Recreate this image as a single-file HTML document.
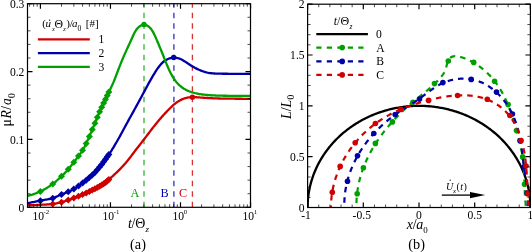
<!DOCTYPE html>
<html><head><meta charset="utf-8"><style>
html,body{margin:0;padding:0;background:#fff;}
body{width:532px;height:252px;overflow:hidden;font-family:"Liberation Serif", serif;}
svg{display:block;will-change:transform;}
</style></head><body>
<svg width="532" height="252" viewBox="0 0 532 252">
<rect width="532" height="252" fill="#fff"/>
<defs><clipPath id="cl"><rect x="27.5" y="3.7" width="223.0" height="203.60000000000002"/></clipPath><clipPath id="cr"><rect x="307.6" y="4.2" width="222.79999999999995" height="203.3"/></clipPath></defs>
<line x1="144.0" y1="207.3" x2="144.0" y2="3.7" stroke="#00a000" stroke-width="1.3" stroke-dasharray="5.6 4.9" opacity="0.8"/>
<line x1="173.9" y1="207.3" x2="173.9" y2="3.7" stroke="#0000a8" stroke-width="1.3" stroke-dasharray="5.6 4.9" opacity="0.8"/>
<line x1="192.4" y1="207.3" x2="192.4" y2="3.7" stroke="#d00000" stroke-width="1.3" stroke-dasharray="5.6 4.9" opacity="0.8"/>
<path d="M27.50 205.30 L28.50 205.27 L29.50 205.24 L30.50 205.21 L31.50 205.18 L32.50 205.14 L33.50 205.11 L34.50 205.07 L35.50 205.03 L36.50 204.98 L37.50 204.94 L38.50 204.89 L39.50 204.85 L40.50 204.80 L41.50 204.75 L42.50 204.70 L43.50 204.65 L44.50 204.59 L45.50 204.54 L46.50 204.48 L47.50 204.41 L48.50 204.34 L49.50 204.27 L50.50 204.18 L51.50 204.09 L52.50 203.98 L53.50 203.85 L54.50 203.71 L55.50 203.54 L56.50 203.35 L57.50 203.14 L58.50 202.92 L59.50 202.68 L60.50 202.44 L61.50 202.18 L62.50 201.91 L63.50 201.63 L64.50 201.33 L65.50 201.02 L66.50 200.69 L67.50 200.36 L68.50 200.02 L69.50 199.67 L70.50 199.31 L71.50 198.94 L72.50 198.56 L73.50 198.18 L74.50 197.79 L75.50 197.40 L76.50 197.00 L77.50 196.61 L78.50 196.20 L79.50 195.79 L80.50 195.38 L81.50 194.96 L82.50 194.54 L83.50 194.11 L84.50 193.67 L85.50 193.23 L86.50 192.79 L87.50 192.33 L88.50 191.87 L89.50 191.41 L90.50 190.93 L91.50 190.45 L92.50 189.96 L93.50 189.46 L94.50 188.96 L95.50 188.45 L96.50 187.94 L97.50 187.43 L98.50 186.91 L99.50 186.38 L100.50 185.83 L101.50 185.24 L102.50 184.60 L103.50 183.92 L104.50 183.18 L105.50 182.40 L106.50 181.57 L107.50 180.72 L108.50 179.85 L109.50 178.97 L110.50 178.09 L111.50 177.20 L112.50 176.30 L113.50 175.38 L114.50 174.46 L115.50 173.52 L116.50 172.56 L117.50 171.60 L118.50 170.61 L119.50 169.61 L120.50 168.59 L121.50 167.55 L122.50 166.49 L123.50 165.40 L124.50 164.28 L125.50 163.13 L126.50 161.96 L127.50 160.75 L128.50 159.52 L129.50 158.25 L130.50 156.95 L131.50 155.62 L132.50 154.29 L133.50 152.96 L134.50 151.63 L135.50 150.32 L136.50 149.03 L137.50 147.74 L138.50 146.45 L139.50 145.17 L140.50 143.89 L141.50 142.61 L142.50 141.32 L143.50 140.03 L144.50 138.72 L145.50 137.41 L146.50 136.10 L147.50 134.78 L148.50 133.46 L149.50 132.14 L150.50 130.82 L151.50 129.51 L152.50 128.21 L153.50 126.92 L154.50 125.67 L155.50 124.43 L156.50 123.21 L157.50 122.00 L158.50 120.80 L159.50 119.61 L160.50 118.43 L161.50 117.26 L162.50 116.12 L163.50 115.01 L164.50 113.93 L165.50 112.87 L166.50 111.83 L167.50 110.80 L168.50 109.79 L169.50 108.78 L170.50 107.79 L171.50 106.82 L172.50 105.88 L173.50 104.97 L174.50 104.10 L175.50 103.29 L176.50 102.54 L177.50 101.86 L178.50 101.22 L179.50 100.64 L180.50 100.10 L181.50 99.61 L182.50 99.16 L183.50 98.75 L184.50 98.39 L185.50 98.07 L186.50 97.80 L187.50 97.58 L188.50 97.41 L189.50 97.30 L190.50 97.21 L191.50 97.17 L192.50 97.14 L193.50 97.15 L194.50 97.18 L195.50 97.22 L196.50 97.27 L197.50 97.33 L198.50 97.40 L199.50 97.47 L200.50 97.54 L201.50 97.61 L202.50 97.68 L203.50 97.75 L204.50 97.81 L205.50 97.87 L206.50 97.93 L207.50 97.98 L208.50 98.04 L209.50 98.09 L210.50 98.14 L211.50 98.19 L212.50 98.24 L213.50 98.29 L214.50 98.33 L215.50 98.37 L216.50 98.41 L217.50 98.45 L218.50 98.48 L219.50 98.51 L220.50 98.54 L221.50 98.56 L222.50 98.58 L223.50 98.60 L224.50 98.61 L225.50 98.63 L226.50 98.64 L227.50 98.65 L228.50 98.66 L229.50 98.67 L230.50 98.68 L231.50 98.69 L232.50 98.70 L233.50 98.71 L234.50 98.72 L235.50 98.73 L236.50 98.74 L237.50 98.75 L238.50 98.75 L239.50 98.76 L240.50 98.77 L241.50 98.77 L242.50 98.78 L243.50 98.78 L244.50 98.79 L245.50 98.79 L246.50 98.79 L247.50 98.80 L248.50 98.80 L249.50 98.80 L250.50 98.80" fill="none" stroke="#d00000" stroke-width="2.3" clip-path="url(#cl)"/>
<path d="M52.74 200.45 L56.24 203.95 L52.74 207.45 L49.24 203.95Z" fill="#d00000"/>
<path d="M61.49 198.68 L64.99 202.18 L61.49 205.68 L57.99 202.18Z" fill="#d00000"/>
<path d="M68.28 196.59 L71.78 200.09 L68.28 203.59 L64.78 200.09Z" fill="#d00000"/>
<path d="M73.82 194.55 L77.32 198.05 L73.82 201.55 L70.32 198.05Z" fill="#d00000"/>
<path d="M78.51 192.70 L82.01 196.20 L78.51 199.70 L75.01 196.20Z" fill="#d00000"/>
<path d="M82.57 191.01 L86.07 194.51 L82.57 198.01 L79.07 194.51Z" fill="#d00000"/>
<path d="M86.16 189.44 L89.66 192.94 L86.16 196.44 L82.66 192.94Z" fill="#d00000"/>
<path d="M89.36 187.97 L92.86 191.47 L89.36 194.97 L85.86 191.47Z" fill="#d00000"/>
<path d="M92.26 186.57 L95.76 190.07 L92.26 193.57 L88.76 190.07Z" fill="#d00000"/>
<path d="M94.91 185.25 L98.41 188.75 L94.91 192.25 L91.41 188.75Z" fill="#d00000"/>
<path d="M97.34 184.01 L100.84 187.51 L97.34 191.01 L93.84 187.51Z" fill="#d00000"/>
<path d="M99.60 182.83 L103.10 186.33 L99.60 189.83 L96.10 186.33Z" fill="#d00000"/>
<path d="M101.70 181.61 L105.20 185.11 L101.70 188.61 L98.20 185.11Z" fill="#d00000"/>
<path d="M103.66 180.31 L107.16 183.81 L103.66 187.31 L100.16 183.81Z" fill="#d00000"/>
<path d="M105.51 178.89 L109.01 182.39 L105.51 185.89 L102.01 182.39Z" fill="#d00000"/>
<path d="M107.24 177.44 L110.74 180.94 L107.24 184.44 L103.74 180.94Z" fill="#d00000"/>
<path d="M108.89 176.01 L112.39 179.51 L108.89 183.01 L105.39 179.51Z" fill="#d00000"/>
<circle cx="192.4" cy="97.2" r="2.7" fill="#d00000"/>
<path d="M27.50 203.30 L28.50 203.09 L29.50 202.87 L30.50 202.66 L31.50 202.45 L32.50 202.24 L33.50 202.03 L34.50 201.82 L35.50 201.61 L36.50 201.41 L37.50 201.20 L38.50 201.00 L39.50 200.81 L40.50 200.61 L41.50 200.42 L42.50 200.24 L43.50 200.07 L44.50 199.90 L45.50 199.73 L46.50 199.56 L47.50 199.39 L48.50 199.20 L49.50 199.00 L50.50 198.78 L51.50 198.53 L52.50 198.25 L53.50 197.91 L54.50 197.53 L55.50 197.11 L56.50 196.65 L57.50 196.18 L58.50 195.72 L59.50 195.27 L60.50 194.84 L61.50 194.44 L62.50 194.06 L63.50 193.69 L64.50 193.31 L65.50 192.94 L66.50 192.54 L67.50 192.13 L68.50 191.70 L69.50 191.25 L70.50 190.77 L71.50 190.27 L72.50 189.76 L73.50 189.21 L74.50 188.64 L75.50 188.04 L76.50 187.41 L77.50 186.75 L78.50 186.06 L79.50 185.35 L80.50 184.63 L81.50 183.88 L82.50 183.13 L83.50 182.37 L84.50 181.59 L85.50 180.79 L86.50 179.98 L87.50 179.16 L88.50 178.32 L89.50 177.46 L90.50 176.59 L91.50 175.70 L92.50 174.78 L93.50 173.84 L94.50 172.85 L95.50 171.82 L96.50 170.74 L97.50 169.61 L98.50 168.42 L99.50 167.19 L100.50 165.93 L101.50 164.65 L102.50 163.35 L103.50 162.03 L104.50 160.68 L105.50 159.32 L106.50 157.92 L107.50 156.50 L108.50 155.05 L109.50 153.57 L110.50 152.06 L111.50 150.51 L112.50 148.92 L113.50 147.29 L114.50 145.64 L115.50 143.95 L116.50 142.24 L117.50 140.50 L118.50 138.74 L119.50 136.95 L120.50 135.13 L121.50 133.29 L122.50 131.43 L123.50 129.56 L124.50 127.70 L125.50 125.85 L126.50 124.01 L127.50 122.18 L128.50 120.36 L129.50 118.56 L130.50 116.76 L131.50 114.96 L132.50 113.16 L133.50 111.36 L134.50 109.55 L135.50 107.73 L136.50 105.90 L137.50 104.06 L138.50 102.22 L139.50 100.38 L140.50 98.53 L141.50 96.68 L142.50 94.82 L143.50 92.96 L144.50 91.10 L145.50 89.23 L146.50 87.36 L147.50 85.50 L148.50 83.66 L149.50 81.85 L150.50 80.07 L151.50 78.32 L152.50 76.61 L153.50 74.94 L154.50 73.31 L155.50 71.72 L156.50 70.19 L157.50 68.70 L158.50 67.28 L159.50 65.94 L160.50 64.71 L161.50 63.61 L162.50 62.63 L163.50 61.76 L164.50 60.99 L165.50 60.30 L166.50 59.71 L167.50 59.20 L168.50 58.76 L169.50 58.39 L170.50 58.07 L171.50 57.82 L172.50 57.65 L173.50 57.56 L174.50 57.56 L175.50 57.64 L176.50 57.79 L177.50 58.00 L178.50 58.27 L179.50 58.62 L180.50 59.03 L181.50 59.52 L182.50 60.07 L183.50 60.65 L184.50 61.26 L185.50 61.90 L186.50 62.56 L187.50 63.22 L188.50 63.90 L189.50 64.56 L190.50 65.21 L191.50 65.84 L192.50 66.44 L193.50 67.02 L194.50 67.58 L195.50 68.11 L196.50 68.62 L197.50 69.11 L198.50 69.57 L199.50 70.01 L200.50 70.43 L201.50 70.81 L202.50 71.18 L203.50 71.52 L204.50 71.84 L205.50 72.14 L206.50 72.41 L207.50 72.64 L208.50 72.84 L209.50 73.01 L210.50 73.14 L211.50 73.24 L212.50 73.33 L213.50 73.41 L214.50 73.48 L215.50 73.54 L216.50 73.59 L217.50 73.63 L218.50 73.66 L219.50 73.68 L220.50 73.70 L221.50 73.72 L222.50 73.73 L223.50 73.74 L224.50 73.75 L225.50 73.76 L226.50 73.77 L227.50 73.77 L228.50 73.78 L229.50 73.78 L230.50 73.79 L231.50 73.79 L232.50 73.80 L233.50 73.80 L234.50 73.80 L235.50 73.80 L236.50 73.80 L237.50 73.80 L238.50 73.80 L239.50 73.80 L240.50 73.80 L241.50 73.80 L242.50 73.80 L243.50 73.80 L244.50 73.80 L245.50 73.80 L246.50 73.80 L247.50 73.80 L248.50 73.80 L249.50 73.80 L250.50 73.80" fill="none" stroke="#0000a8" stroke-width="2.3" clip-path="url(#cl)"/>
<path d="M40.40 197.13 L43.90 200.63 L40.40 204.13 L36.90 200.63Z" fill="#0000a8"/>
<path d="M52.74 194.67 L56.24 198.17 L52.74 201.67 L49.24 198.17Z" fill="#0000a8"/>
<path d="M61.49 190.95 L64.99 194.45 L61.49 197.95 L57.99 194.45Z" fill="#0000a8"/>
<path d="M68.28 188.30 L71.78 191.80 L68.28 195.30 L64.78 191.80Z" fill="#0000a8"/>
<path d="M73.82 185.53 L77.32 189.03 L73.82 192.53 L70.32 189.03Z" fill="#0000a8"/>
<path d="M78.51 182.56 L82.01 186.06 L78.51 189.56 L75.01 186.06Z" fill="#0000a8"/>
<path d="M82.57 179.57 L86.07 183.07 L82.57 186.57 L79.07 183.07Z" fill="#0000a8"/>
<path d="M86.16 176.76 L89.66 180.26 L86.16 183.76 L82.66 180.26Z" fill="#0000a8"/>
<path d="M89.36 174.08 L92.86 177.58 L89.36 181.08 L85.86 177.58Z" fill="#0000a8"/>
<path d="M92.26 171.50 L95.76 175.00 L92.26 178.50 L88.76 175.00Z" fill="#0000a8"/>
<path d="M94.91 168.94 L98.41 172.44 L94.91 175.94 L91.41 172.44Z" fill="#0000a8"/>
<path d="M97.34 166.29 L100.84 169.79 L97.34 173.29 L93.84 169.79Z" fill="#0000a8"/>
<path d="M99.60 163.57 L103.10 167.07 L99.60 170.57 L96.10 167.07Z" fill="#0000a8"/>
<path d="M101.70 160.90 L105.20 164.40 L101.70 167.90 L98.20 164.40Z" fill="#0000a8"/>
<path d="M103.66 158.31 L107.16 161.81 L103.66 165.31 L100.16 161.81Z" fill="#0000a8"/>
<path d="M105.51 155.81 L109.01 159.31 L105.51 162.81 L102.01 159.31Z" fill="#0000a8"/>
<path d="M107.24 153.37 L110.74 156.87 L107.24 160.37 L103.74 156.87Z" fill="#0000a8"/>
<path d="M108.89 150.98 L112.39 154.48 L108.89 157.98 L105.39 154.48Z" fill="#0000a8"/>
<circle cx="173.7" cy="57.4" r="2.7" fill="#0000a8"/>
<path d="M27.50 195.96 L28.50 195.72 L29.50 195.46 L30.50 195.18 L31.50 194.88 L32.50 194.56 L33.50 194.21 L34.50 193.85 L35.50 193.47 L36.50 193.08 L37.50 192.68 L38.50 192.25 L39.50 191.82 L40.50 191.37 L41.50 190.89 L42.50 190.40 L43.50 189.88 L44.50 189.33 L45.50 188.76 L46.50 188.16 L47.50 187.54 L48.50 186.90 L49.50 186.23 L50.50 185.55 L51.50 184.85 L52.50 184.12 L53.50 183.37 L54.50 182.58 L55.50 181.75 L56.50 180.90 L57.50 180.01 L58.50 179.11 L59.50 178.18 L60.50 177.24 L61.50 176.28 L62.50 175.32 L63.50 174.33 L64.50 173.32 L65.50 172.29 L66.50 171.22 L67.50 170.12 L68.50 168.98 L69.50 167.80 L70.50 166.58 L71.50 165.32 L72.50 164.04 L73.50 162.74 L74.50 161.42 L75.50 160.09 L76.50 158.75 L77.50 157.41 L78.50 156.07 L79.50 154.74 L80.50 153.37 L81.50 151.94 L82.50 150.39 L83.50 148.71 L84.50 146.88 L85.50 144.92 L86.50 142.83 L87.50 140.65 L88.50 138.39 L89.50 136.09 L90.50 133.75 L91.50 131.40 L92.50 129.03 L93.50 126.63 L94.50 124.20 L95.50 121.74 L96.50 119.27 L97.50 116.81 L98.50 114.41 L99.50 112.07 L100.50 109.82 L101.50 107.64 L102.50 105.51 L103.50 103.42 L104.50 101.34 L105.50 99.25 L106.50 97.15 L107.50 95.04 L108.50 92.93 L109.50 90.83 L110.50 88.73 L111.50 86.61 L112.50 84.43 L113.50 82.15 L114.50 79.72 L115.50 77.17 L116.50 74.53 L117.50 71.86 L118.50 69.22 L119.50 66.63 L120.50 64.12 L121.50 61.67 L122.50 59.27 L123.50 56.92 L124.50 54.61 L125.50 52.36 L126.50 50.15 L127.50 47.97 L128.50 45.80 L129.50 43.63 L130.50 41.42 L131.50 39.18 L132.50 36.94 L133.50 34.77 L134.50 32.77 L135.50 31.02 L136.50 29.53 L137.50 28.29 L138.50 27.28 L139.50 26.47 L140.50 25.83 L141.50 25.35 L142.50 25.02 L143.50 24.84 L144.50 24.84 L145.50 25.02 L146.50 25.35 L147.50 25.84 L148.50 26.49 L149.50 27.32 L150.50 28.36 L151.50 29.62 L152.50 31.13 L153.50 32.89 L154.50 34.89 L155.50 37.07 L156.50 39.37 L157.50 41.72 L158.50 44.07 L159.50 46.44 L160.50 48.83 L161.50 51.27 L162.50 53.75 L163.50 56.26 L164.50 58.80 L165.50 61.33 L166.50 63.83 L167.50 66.25 L168.50 68.57 L169.50 70.75 L170.50 72.79 L171.50 74.68 L172.50 76.43 L173.50 78.04 L174.50 79.53 L175.50 80.90 L176.50 82.15 L177.50 83.31 L178.50 84.36 L179.50 85.32 L180.50 86.20 L181.50 87.00 L182.50 87.74 L183.50 88.42 L184.50 89.04 L185.50 89.60 L186.50 90.12 L187.50 90.59 L188.50 91.02 L189.50 91.42 L190.50 91.79 L191.50 92.13 L192.50 92.44 L193.50 92.73 L194.50 93.00 L195.50 93.25 L196.50 93.48 L197.50 93.69 L198.50 93.88 L199.50 94.06 L200.50 94.22 L201.50 94.37 L202.50 94.50 L203.50 94.62 L204.50 94.73 L205.50 94.84 L206.50 94.93 L207.50 95.02 L208.50 95.10 L209.50 95.18 L210.50 95.25 L211.50 95.32 L212.50 95.38 L213.50 95.43 L214.50 95.47 L215.50 95.51 L216.50 95.54 L217.50 95.58 L218.50 95.61 L219.50 95.63 L220.50 95.66 L221.50 95.68 L222.50 95.71 L223.50 95.73 L224.50 95.75 L225.50 95.76 L226.50 95.77 L227.50 95.78 L228.50 95.79 L229.50 95.80 L230.50 95.80 L231.50 95.80 L232.50 95.80 L233.50 95.80 L234.50 95.80 L235.50 95.80 L236.50 95.80 L237.50 95.80 L238.50 95.80 L239.50 95.80 L240.50 95.80 L241.50 95.80 L242.50 95.80 L243.50 95.80 L244.50 95.80 L245.50 95.80 L246.50 95.80 L247.50 95.80 L248.50 95.80 L249.50 95.80 L250.50 95.80" fill="none" stroke="#00a000" stroke-width="2.3" clip-path="url(#cl)"/>
<path d="M40.40 187.91 L43.90 191.41 L40.40 194.91 L36.90 191.41Z" fill="#00a000"/>
<path d="M52.74 180.45 L56.24 183.95 L52.74 187.45 L49.24 183.95Z" fill="#00a000"/>
<path d="M61.49 172.80 L64.99 176.30 L61.49 179.80 L57.99 176.30Z" fill="#00a000"/>
<path d="M68.28 165.74 L71.78 169.24 L68.28 172.74 L64.78 169.24Z" fill="#00a000"/>
<path d="M73.82 158.81 L77.32 162.31 L73.82 165.81 L70.32 162.31Z" fill="#00a000"/>
<path d="M78.51 152.56 L82.01 156.06 L78.51 159.56 L75.01 156.06Z" fill="#00a000"/>
<path d="M82.57 146.77 L86.07 150.27 L82.57 153.77 L79.07 150.27Z" fill="#00a000"/>
<path d="M86.16 140.06 L89.66 143.56 L86.16 147.06 L82.66 143.56Z" fill="#00a000"/>
<path d="M89.36 132.91 L92.86 136.41 L89.36 139.91 L85.86 136.41Z" fill="#00a000"/>
<path d="M92.26 126.09 L95.76 129.59 L92.26 133.09 L88.76 129.59Z" fill="#00a000"/>
<path d="M94.91 119.69 L98.41 123.19 L94.91 126.69 L91.41 123.19Z" fill="#00a000"/>
<path d="M97.34 113.69 L100.84 117.19 L97.34 120.69 L93.84 117.19Z" fill="#00a000"/>
<path d="M99.60 108.35 L103.10 111.85 L99.60 115.35 L96.10 111.85Z" fill="#00a000"/>
<path d="M101.70 103.71 L105.20 107.21 L101.70 110.71 L98.20 107.21Z" fill="#00a000"/>
<path d="M103.66 99.59 L107.16 103.09 L103.66 106.59 L100.16 103.09Z" fill="#00a000"/>
<path d="M105.51 95.74 L109.01 99.24 L105.51 102.74 L102.01 99.24Z" fill="#00a000"/>
<path d="M107.24 92.08 L110.74 95.58 L107.24 99.08 L103.74 95.58Z" fill="#00a000"/>
<path d="M108.89 88.61 L112.39 92.11 L108.89 95.61 L105.39 92.11Z" fill="#00a000"/>
<circle cx="144" cy="24.5" r="2.7" fill="#00a000"/>
<rect x="27.5" y="3.7" width="223.0" height="203.60000000000002" fill="none" stroke="#000" stroke-width="1.2"/>
<path d="M40.40 207.3 v-5.0 M40.40 3.7 v5.0 M110.45 207.3 v-5.0 M110.45 3.7 v5.0 M180.50 207.3 v-5.0 M180.50 3.7 v5.0 M250.55 207.3 v-5.0 M250.55 3.7 v5.0 M27.5 207.30 h5.0 M250.5 207.30 h-5.0 M27.5 139.43 h5.0 M250.5 139.43 h-5.0 M27.5 71.56 h5.0 M250.5 71.56 h-5.0 M27.5 3.69 h5.0 M250.5 3.69 h-5.0" stroke="#000" stroke-width="1.2" fill="none"/>
<path d="M29.55 207.3 v-3.0 M29.55 3.7 v3.0 M33.61 207.3 v-3.0 M33.61 3.7 v3.0 M37.19 207.3 v-3.0 M37.19 3.7 v3.0 M61.49 207.3 v-3.0 M61.49 3.7 v3.0 M73.82 207.3 v-3.0 M73.82 3.7 v3.0 M82.57 207.3 v-3.0 M82.57 3.7 v3.0 M89.36 207.3 v-3.0 M89.36 3.7 v3.0 M94.91 207.3 v-3.0 M94.91 3.7 v3.0 M99.60 207.3 v-3.0 M99.60 3.7 v3.0 M103.66 207.3 v-3.0 M103.66 3.7 v3.0 M107.24 207.3 v-3.0 M107.24 3.7 v3.0 M131.54 207.3 v-3.0 M131.54 3.7 v3.0 M143.87 207.3 v-3.0 M143.87 3.7 v3.0 M152.62 207.3 v-3.0 M152.62 3.7 v3.0 M159.41 207.3 v-3.0 M159.41 3.7 v3.0 M164.96 207.3 v-3.0 M164.96 3.7 v3.0 M169.65 207.3 v-3.0 M169.65 3.7 v3.0 M173.71 207.3 v-3.0 M173.71 3.7 v3.0 M177.29 207.3 v-3.0 M177.29 3.7 v3.0 M201.59 207.3 v-3.0 M201.59 3.7 v3.0 M213.92 207.3 v-3.0 M213.92 3.7 v3.0 M222.67 207.3 v-3.0 M222.67 3.7 v3.0 M229.46 207.3 v-3.0 M229.46 3.7 v3.0 M235.01 207.3 v-3.0 M235.01 3.7 v3.0 M239.70 207.3 v-3.0 M239.70 3.7 v3.0 M243.76 207.3 v-3.0 M243.76 3.7 v3.0 M247.34 207.3 v-3.0 M247.34 3.7 v3.0 M27.5 193.73 h3.0 M250.5 193.73 h-3.0 M27.5 180.15 h3.0 M250.5 180.15 h-3.0 M27.5 166.58 h3.0 M250.5 166.58 h-3.0 M27.5 153.00 h3.0 M250.5 153.00 h-3.0 M27.5 125.86 h3.0 M250.5 125.86 h-3.0 M27.5 112.28 h3.0 M250.5 112.28 h-3.0 M27.5 98.71 h3.0 M250.5 98.71 h-3.0 M27.5 85.13 h3.0 M250.5 85.13 h-3.0 M27.5 57.99 h3.0 M250.5 57.99 h-3.0 M27.5 44.41 h3.0 M250.5 44.41 h-3.0 M27.5 30.84 h3.0 M250.5 30.84 h-3.0 M27.5 17.26 h3.0 M250.5 17.26 h-3.0" stroke="#000" stroke-width="0.7" fill="none"/>
<path d="M307.60 207.50 L307.61 206.43 L307.62 205.36 L307.66 204.30 L307.70 203.23 L307.75 202.16 L307.82 201.10 L307.90 200.03 L307.99 198.97 L308.10 197.90 L308.21 196.84 L308.34 195.78 L308.48 194.72 L308.64 193.66 L308.80 192.60 L308.98 191.55 L309.17 190.49 L309.37 189.44 L309.59 188.39 L309.81 187.34 L310.05 186.30 L310.30 185.25 L310.56 184.21 L310.84 183.17 L311.12 182.14 L311.42 181.11 L311.73 180.08 L312.05 179.05 L312.39 178.02 L312.73 177.00 L313.09 175.99 L313.46 174.97 L313.84 173.96 L314.23 172.96 L314.63 171.95 L315.05 170.96 L315.47 169.96 L315.91 168.97 L316.36 167.98 L316.82 167.00 L317.29 166.03 L317.78 165.05 L318.27 164.08 L318.78 163.12 L319.29 162.16 L319.82 161.21 L320.36 160.26 L320.91 159.32 L321.47 158.38 L322.04 157.45 L322.62 156.52 L323.21 155.60 L323.82 154.68 L324.43 153.77 L325.05 152.87 L325.69 151.97 L326.33 151.08 L326.99 150.20 L327.65 149.32 L328.33 148.44 L329.01 147.58 L329.71 146.72 L330.41 145.87 L331.13 145.02 L331.85 144.18 L332.59 143.35 L333.33 142.52 L334.08 141.71 L334.84 140.90 L335.62 140.09 L336.40 139.30 L337.19 138.51 L337.99 137.73 L338.79 136.96 L339.61 136.19 L340.44 135.43 L341.27 134.68 L342.11 133.94 L342.96 133.21 L343.82 132.49 L344.69 131.77 L345.57 131.06 L346.45 130.36 L347.34 129.67 L348.24 128.99 L349.15 128.31 L350.07 127.65 L350.99 126.99 L351.92 126.34 L352.86 125.71 L353.81 125.08 L354.76 124.46 L355.72 123.84 L356.68 123.24 L357.66 122.65 L358.64 122.07 L359.63 121.49 L360.62 120.93 L361.62 120.37 L362.63 119.83 L363.64 119.29 L364.66 118.77 L365.68 118.25 L366.71 117.74 L367.75 117.25 L368.79 116.76 L369.84 116.28 L370.89 115.82 L371.95 115.36 L373.01 114.92 L374.08 114.48 L375.16 114.05 L376.23 113.64 L377.32 113.23 L378.40 112.84 L379.50 112.46 L380.59 112.08 L381.69 111.72 L382.80 111.37 L383.91 111.03 L385.02 110.69 L386.14 110.37 L387.26 110.06 L388.38 109.76 L389.51 109.48 L390.64 109.20 L391.77 108.93 L392.91 108.68 L394.05 108.43 L395.19 108.20 L396.34 107.98 L397.48 107.76 L398.63 107.56 L399.78 107.37 L400.94 107.20 L402.09 107.03 L403.25 106.87 L404.41 106.73 L405.57 106.59 L406.73 106.47 L407.90 106.36 L409.06 106.26 L410.23 106.17 L411.40 106.09 L412.57 106.02 L413.73 105.96 L414.90 105.92 L416.07 105.89 L417.24 105.86 L418.41 105.85 L419.59 105.85 L420.76 105.86 L421.93 105.89 L423.10 105.92 L424.27 105.96 L425.43 106.02 L426.60 106.09 L427.77 106.17 L428.94 106.26 L430.10 106.36 L431.27 106.47 L432.43 106.59 L433.59 106.73 L434.75 106.87 L435.91 107.03 L437.06 107.20 L438.22 107.37 L439.37 107.56 L440.52 107.76 L441.66 107.98 L442.81 108.20 L443.95 108.43 L445.09 108.68 L446.23 108.93 L447.36 109.20 L448.49 109.48 L449.62 109.76 L450.74 110.06 L451.86 110.37 L452.98 110.69 L454.09 111.03 L455.20 111.37 L456.31 111.72 L457.41 112.08 L458.50 112.46 L459.60 112.84 L460.68 113.23 L461.77 113.64 L462.84 114.05 L463.92 114.48 L464.99 114.92 L466.05 115.36 L467.11 115.82 L468.16 116.28 L469.21 116.76 L470.25 117.25 L471.29 117.74 L472.32 118.25 L473.34 118.77 L474.36 119.29 L475.37 119.83 L476.38 120.37 L477.38 120.93 L478.37 121.49 L479.36 122.07 L480.34 122.65 L481.32 123.24 L482.28 123.84 L483.24 124.46 L484.19 125.08 L485.14 125.71 L486.08 126.34 L487.01 126.99 L487.93 127.65 L488.85 128.31 L489.76 128.99 L490.66 129.67 L491.55 130.36 L492.43 131.06 L493.31 131.77 L494.18 132.49 L495.04 133.21 L495.89 133.94 L496.73 134.68 L497.56 135.43 L498.39 136.19 L499.21 136.96 L500.01 137.73 L500.81 138.51 L501.60 139.30 L502.38 140.09 L503.16 140.90 L503.92 141.71 L504.67 142.52 L505.41 143.35 L506.15 144.18 L506.87 145.02 L507.59 145.87 L508.29 146.72 L508.99 147.58 L509.67 148.44 L510.35 149.32 L511.01 150.20 L511.67 151.08 L512.31 151.97 L512.95 152.87 L513.57 153.77 L514.18 154.68 L514.79 155.60 L515.38 156.52 L515.96 157.45 L516.53 158.38 L517.09 159.32 L517.64 160.26 L518.18 161.21 L518.71 162.16 L519.22 163.12 L519.73 164.08 L520.22 165.05 L520.71 166.03 L521.18 167.00 L521.64 167.98 L522.09 168.97 L522.53 169.96 L522.95 170.96 L523.37 171.95 L523.77 172.96 L524.16 173.96 L524.54 174.97 L524.91 175.99 L525.27 177.00 L525.61 178.02 L525.95 179.05 L526.27 180.08 L526.58 181.11 L526.88 182.14 L527.16 183.17 L527.44 184.21 L527.70 185.25 L527.95 186.30 L528.19 187.34 L528.41 188.39 L528.63 189.44 L528.83 190.49 L529.02 191.55 L529.20 192.60 L529.36 193.66 L529.52 194.72 L529.66 195.78 L529.79 196.84 L529.90 197.90 L530.01 198.97 L530.10 200.03 L530.18 201.10 L530.25 202.16 L530.30 203.23 L530.34 204.30 L530.38 205.36 L530.39 206.43 L530.40 207.50" fill="none" stroke="#000" stroke-width="2.3" clip-path="url(#cr)"/>
<path d="M356.45 207.65 L356.44 207.01 L356.43 206.37 L356.43 205.73 L356.43 205.09 L356.43 204.45 L356.44 203.82 L356.45 203.19 L356.47 202.55 L356.49 201.92 L356.51 201.29 L356.53 200.66 L356.57 200.03 L356.60 199.40 L356.64 198.77 L356.68 198.15 L356.73 197.52 L356.77 196.90 L356.83 196.28 L356.88 195.65 L356.94 195.03 L357.01 194.41 L357.08 193.79 L357.15 193.18 L357.22 192.56 L357.30 191.94 L357.38 191.33 L357.47 190.72 L357.56 190.10 L357.65 189.49 L357.75 188.88 L357.85 188.27 L357.95 187.66 L358.06 187.06 L358.17 186.45 L358.28 185.85 L358.40 185.24 L358.52 184.64 L358.64 184.04 L358.77 183.44 L358.90 182.84 L359.03 182.24 L359.17 181.64 L359.31 181.05 L359.46 180.45 L359.60 179.86 L359.75 179.26 L359.91 178.67 L360.07 178.08 L360.23 177.49 L360.39 176.90 L360.56 176.32 L360.73 175.73 L360.90 175.14 L361.08 174.56 L361.25 173.98 L361.44 173.40 L361.62 172.81 L361.81 172.24 L362.00 171.66 L362.20 171.08 L362.40 170.50 L362.60 169.93 L362.80 169.35 L363.01 168.78 L363.22 168.21 L363.43 167.64 L363.65 167.07 L363.86 166.50 L364.09 165.94 L364.31 165.37 L364.54 164.80 L364.77 164.24 L365.00 163.68 L365.24 163.12 L365.48 162.56 L365.72 162.00 L365.96 161.44 L366.21 160.88 L366.46 160.33 L366.71 159.78 L366.97 159.22 L367.23 158.67 L367.49 158.12 L367.75 157.57 L368.02 157.02 L368.29 156.47 L368.56 155.93 L368.83 155.38 L369.11 154.84 L369.39 154.30 L369.67 153.76 L369.96 153.22 L370.24 152.68 L370.53 152.14 L370.82 151.60 L371.12 151.07 L371.42 150.54 L371.72 150.00 L372.02 149.47 L372.32 148.94 L372.63 148.41 L372.94 147.88 L373.25 147.36 L373.57 146.83 L373.88 146.31 L374.20 145.79 L374.52 145.26 L374.85 144.74 L375.17 144.22 L375.50 143.71 L375.83 143.19 L376.16 142.67 L376.50 142.16 L376.84 141.65 L377.17 141.13 L377.52 140.62 L377.86 140.11 L378.21 139.61 L378.55 139.10 L378.90 138.59 L379.26 138.09 L379.61 137.59 L379.97 137.09 L380.33 136.59 L380.69 136.09 L381.05 135.59 L381.41 135.09 L381.78 134.60 L382.15 134.10 L382.52 133.61 L382.89 133.12 L383.27 132.63 L383.64 132.14 L384.02 131.65 L384.40 131.16 L384.79 130.68 L385.17 130.20 L385.56 129.71 L385.94 129.23 L386.33 128.75 L386.73 128.27 L387.12 127.80 L387.51 127.32 L387.91 126.85 L388.31 126.37 L388.71 125.90 L389.11 125.43 L389.52 124.96 L389.92 124.49 L390.33 124.03 L390.74 123.56 L391.15 123.10 L391.56 122.63 L391.97 122.17 L392.39 121.71 L392.81 121.25 L393.22 120.79 L393.64 120.34 L394.07 119.88 L394.49 119.43 L394.91 118.98 L395.34 118.53 L395.77 118.08 L396.20 117.63 L396.63 117.18 L397.06 116.74 L397.49 116.29 L397.93 115.85 L398.36 115.41 L398.80 114.97 L399.24 114.53 L399.68 114.09 L400.12 113.66 L400.56 113.22 L401.01 112.79 L401.45 112.36 L401.90 111.93 L402.34 111.50 L402.79 111.07 L403.24 110.65 L403.70 110.22 L404.15 109.80 L404.60 109.38 L405.06 108.96 L405.51 108.54 L405.97 108.12 L406.43 107.70 L406.89 107.29 L407.35 106.87 L407.81 106.46 L408.27 106.05 L408.73 105.64 L409.20 105.23 L409.66 104.83 L410.13 104.42 L410.60 104.02 L411.07 103.62 L411.54 103.21 L412.01 102.82 L412.48 102.42 L412.95 102.02 L413.42 101.63 L413.90 101.23 L414.37 100.84 L414.85 100.45 L415.32 100.06 L415.80 99.67 L416.27 99.28 L416.75 98.89 L417.23 98.50 L417.71 98.12 L418.18 97.73 L418.66 97.35 L419.14 96.96 L419.62 96.58 L420.10 96.19 L420.57 95.81 L421.05 95.43 L421.53 95.04 L422.00 94.66 L422.48 94.27 L422.96 93.89 L423.43 93.50 L423.91 93.12 L424.38 92.73 L424.85 92.34 L425.33 91.96 L425.80 91.57 L426.27 91.18 L426.74 90.79 L427.20 90.40 L427.67 90.01 L428.14 89.61 L428.60 89.22 L429.06 88.82 L429.52 88.42 L429.98 88.02 L430.44 87.62 L430.90 87.22 L431.35 86.81 L431.81 86.41 L432.26 86.00 L432.71 85.59 L433.15 85.17 L433.60 84.76 L434.04 84.34 L434.48 83.92 L434.92 83.50 L435.35 83.07 L435.79 82.65 L436.22 82.21 L436.65 81.78 L437.07 81.34 L437.49 80.90 L437.91 80.46 L438.33 80.02 L438.74 79.57 L439.16 79.11 L439.56 78.66 L439.97 78.20 L440.37 77.73 L440.77 77.27 L441.16 76.79 L441.54 76.32 L441.92 75.83 L442.29 75.34 L442.65 74.84 L443.00 74.34 L443.34 73.83 L443.67 73.30 L443.99 72.77 L444.29 72.23 L444.58 71.68 L444.85 71.12 L445.10 70.54 L445.33 69.95 L445.55 69.36 L445.75 68.75 L445.94 68.13 L446.12 67.51 L446.30 66.88 L446.46 66.25 L446.63 65.62 L446.79 64.99 L446.96 64.37 L447.14 63.75 L447.32 63.14 L447.52 62.54 L447.73 61.95 L447.96 61.38 L448.21 60.82 L448.48 60.28 L448.77 59.76 L449.09 59.27 L449.43 58.80 L449.80 58.37 L450.19 57.97 L450.60 57.60 L451.05 57.28 L451.51 57.00 L452.00 56.76 L452.52 56.57 L453.05 56.42 L453.61 56.31 L454.18 56.24 L454.77 56.20 L455.36 56.19 L455.97 56.21 L456.59 56.26 L457.21 56.33 L457.84 56.42 L458.47 56.53 L459.10 56.66 L459.72 56.81 L460.34 56.96 L460.96 57.13 L461.56 57.30 L462.16 57.49 L462.76 57.68 L463.35 57.88 L463.93 58.09 L464.51 58.30 L465.09 58.53 L465.66 58.76 L466.23 58.99 L466.80 59.23 L467.36 59.48 L467.93 59.73 L468.49 59.99 L469.04 60.25 L469.60 60.52 L470.15 60.79 L470.70 61.07 L471.25 61.35 L471.79 61.64 L472.34 61.94 L472.88 62.24 L473.41 62.54 L473.95 62.85 L474.48 63.17 L475.01 63.49 L475.53 63.81 L476.06 64.14 L476.57 64.48 L477.09 64.82 L477.61 65.16 L478.12 65.51 L478.62 65.87 L479.13 66.22 L479.63 66.59 L480.13 66.95 L480.63 67.32 L481.12 67.70 L481.61 68.08 L482.09 68.46 L482.58 68.85 L483.05 69.24 L483.53 69.64 L484.00 70.04 L484.47 70.44 L484.94 70.85 L485.40 71.26 L485.86 71.68 L486.32 72.10 L486.77 72.52 L487.22 72.95 L487.66 73.38 L488.10 73.81 L488.54 74.25 L488.98 74.69 L489.41 75.13 L489.83 75.58 L490.26 76.03 L490.68 76.49 L491.09 76.94 L491.50 77.40 L491.91 77.87 L492.32 78.33 L492.72 78.80 L493.11 79.27 L493.51 79.75 L493.89 80.22 L494.28 80.70 L494.66 81.19 L495.04 81.67 L495.41 82.16 L495.78 82.65 L496.14 83.14 L496.50 83.64 L496.86 84.13 L497.21 84.63 L497.56 85.14 L497.90 85.64 L498.25 86.15 L498.58 86.66 L498.92 87.17 L499.25 87.68 L499.57 88.20 L499.90 88.72 L500.22 89.24 L500.53 89.76 L500.85 90.28 L501.16 90.81 L501.46 91.34 L501.77 91.87 L502.07 92.40 L502.36 92.94 L502.65 93.47 L502.94 94.01 L503.23 94.55 L503.52 95.09 L503.80 95.64 L504.07 96.18 L504.35 96.73 L504.62 97.28 L504.89 97.83 L505.16 98.38 L505.42 98.93 L505.68 99.49 L505.94 100.04 L506.19 100.60 L506.45 101.16 L506.70 101.72 L506.94 102.29 L507.19 102.85 L507.43 103.41 L507.67 103.98 L507.91 104.55 L508.14 105.12 L508.38 105.69 L508.61 106.26 L508.83 106.83 L509.06 107.41 L509.28 107.98 L509.51 108.56 L509.73 109.13 L509.94 109.71 L510.16 110.29 L510.37 110.87 L510.58 111.45 L510.79 112.03 L511.00 112.61 L511.21 113.20 L511.41 113.78 L511.61 114.37 L511.81 114.95 L512.01 115.54 L512.21 116.13 L512.41 116.71 L512.60 117.30 L512.79 117.89 L512.98 118.48 L513.17 119.07 L513.36 119.66 L513.55 120.25 L513.73 120.84 L513.92 121.43 L514.10 122.03 L514.28 122.62 L514.46 123.21 L514.64 123.80 L514.82 124.40 L515.00 124.99 L515.17 125.58 L515.35 126.18 L515.52 126.77 L515.70 127.37 L515.87 127.96 L516.04 128.55 L516.21 129.15 L516.38 129.74 L516.55 130.34 L516.72 130.93 L516.89 131.53 L517.06 132.12 L517.22 132.71 L517.39 133.31 L517.55 133.90 L517.72 134.49 L517.88 135.09 L518.04 135.68 L518.20 136.28 L518.36 136.87 L518.52 137.46 L518.68 138.06 L518.83 138.65 L518.99 139.25 L519.14 139.84 L519.29 140.43 L519.44 141.03 L519.59 141.62 L519.73 142.22 L519.88 142.81 L520.02 143.41 L520.16 144.01 L520.30 144.60 L520.44 145.20 L520.57 145.79 L520.71 146.39 L520.84 146.99 L520.97 147.59 L521.09 148.18 L521.22 148.78 L521.34 149.38 L521.46 149.98 L521.58 150.58 L521.69 151.18 L521.80 151.78 L521.91 152.38 L522.02 152.98 L522.12 153.58 L522.23 154.18 L522.32 154.79 L522.42 155.39 L522.51 155.99 L522.60 156.60 L522.69 157.20 L522.77 157.81 L522.85 158.42 L522.93 159.02 L523.01 159.63 L523.08 160.24 L523.15 160.85 L523.22 161.45 L523.28 162.06 L523.34 162.67 L523.40 163.28 L523.46 163.89 L523.51 164.51 L523.57 165.12 L523.62 165.73 L523.67 166.34 L523.71 166.95 L523.76 167.57 L523.80 168.18 L523.84 168.79 L523.88 169.41 L523.92 170.02 L523.96 170.64 L523.99 171.25 L524.02 171.87 L524.06 172.48 L524.09 173.10 L524.12 173.71 L524.15 174.33 L524.17 174.95 L524.20 175.56 L524.23 176.18 L524.25 176.80 L524.27 177.41 L524.30 178.03 L524.32 178.65 L524.34 179.26 L524.36 179.88 L524.39 180.50 L524.41 181.12 L524.43 181.73 L524.45 182.35 L524.47 182.97 L524.49 183.58 L524.51 184.20 L524.53 184.82 L524.55 185.44 L524.57 186.05 L524.59 186.67 L524.61 187.29 L524.64 187.90 L524.66 188.52 L524.68 189.14 L524.71 189.75 L524.73 190.37 L524.76 190.99 L524.78 191.60 L524.81 192.22 L524.84 192.83 L524.87 193.45 L524.90 194.06 L524.93 194.68 L524.96 195.29 L524.99 195.91 L525.03 196.52 L525.07 197.13 L525.11 197.75 L525.15 198.36 L525.19 198.97 L525.23 199.58 L525.28 200.20 L525.33 200.81 L525.38 201.42 L525.43 202.03 L525.48 202.64 L525.54 203.25 L525.60 203.86 L525.66 204.47 L525.72 205.07 L525.79 205.68 L525.85 206.29 L525.92 206.89 L526.00 207.50" fill="none" stroke="#00a000" stroke-width="2.2" stroke-dasharray="5.5 5" stroke-dashoffset="6.0" clip-path="url(#cr)"/>
<circle cx="357.2" cy="193.7" r="2.8" fill="#00a000"/>
<circle cx="363.4" cy="167.8" r="2.8" fill="#00a000"/>
<circle cx="375.4" cy="143.4" r="2.8" fill="#00a000"/>
<circle cx="392.4" cy="121.9" r="2.8" fill="#00a000"/>
<circle cx="412.9" cy="102.2" r="2.8" fill="#00a000"/>
<circle cx="434.5" cy="83.6" r="2.8" fill="#00a000"/>
<circle cx="448.3" cy="61.0" r="2.8" fill="#00a000"/>
<circle cx="473.7" cy="62.4" r="2.8" fill="#00a000"/>
<circle cx="494.6" cy="81.3" r="2.8" fill="#00a000"/>
<circle cx="508.1" cy="104.6" r="2.8" fill="#00a000"/>
<circle cx="516.5" cy="130.6" r="2.8" fill="#00a000"/>
<circle cx="522.7" cy="156.9" r="2.8" fill="#00a000"/>
<circle cx="524.5" cy="184.3" r="2.8" fill="#00a000"/>
<path d="M344.35 207.57 L344.34 206.97 L344.33 206.37 L344.32 205.78 L344.31 205.18 L344.31 204.59 L344.31 203.99 L344.32 203.40 L344.33 202.81 L344.34 202.22 L344.36 201.63 L344.38 201.04 L344.41 200.45 L344.44 199.86 L344.47 199.27 L344.51 198.68 L344.55 198.10 L344.59 197.51 L344.64 196.93 L344.69 196.34 L344.74 195.76 L344.80 195.18 L344.86 194.59 L344.93 194.01 L345.00 193.43 L345.07 192.85 L345.14 192.28 L345.22 191.70 L345.31 191.12 L345.39 190.55 L345.48 189.97 L345.58 189.40 L345.67 188.83 L345.77 188.26 L345.88 187.68 L345.99 187.11 L346.10 186.55 L346.21 185.98 L346.33 185.41 L346.45 184.84 L346.57 184.28 L346.70 183.71 L346.83 183.15 L346.97 182.59 L347.10 182.03 L347.24 181.47 L347.39 180.91 L347.54 180.35 L347.69 179.79 L347.84 179.24 L348.00 178.68 L348.16 178.13 L348.32 177.58 L348.49 177.02 L348.66 176.47 L348.83 175.92 L349.00 175.37 L349.18 174.83 L349.36 174.28 L349.55 173.73 L349.74 173.19 L349.93 172.65 L350.12 172.11 L350.32 171.56 L350.52 171.02 L350.72 170.49 L350.93 169.95 L351.14 169.41 L351.35 168.88 L351.57 168.34 L351.79 167.81 L352.01 167.28 L352.23 166.75 L352.46 166.22 L352.69 165.69 L352.92 165.17 L353.16 164.64 L353.39 164.12 L353.63 163.59 L353.88 163.07 L354.13 162.55 L354.37 162.03 L354.63 161.51 L354.88 161.00 L355.14 160.48 L355.40 159.97 L355.66 159.46 L355.93 158.94 L356.20 158.43 L356.47 157.93 L356.74 157.42 L357.02 156.91 L357.30 156.41 L357.58 155.90 L357.86 155.40 L358.15 154.90 L358.44 154.40 L358.73 153.90 L359.03 153.41 L359.32 152.91 L359.62 152.42 L359.93 151.93 L360.23 151.44 L360.54 150.95 L360.85 150.46 L361.16 149.97 L361.47 149.49 L361.79 149.01 L362.11 148.52 L362.43 148.04 L362.76 147.56 L363.08 147.09 L363.41 146.61 L363.74 146.14 L364.08 145.66 L364.41 145.19 L364.75 144.72 L365.09 144.25 L365.43 143.79 L365.78 143.32 L366.12 142.86 L366.47 142.39 L366.82 141.93 L367.18 141.47 L367.53 141.02 L367.89 140.56 L368.25 140.11 L368.61 139.65 L368.98 139.20 L369.35 138.75 L369.71 138.31 L370.09 137.86 L370.46 137.41 L370.83 136.97 L371.21 136.53 L371.59 136.09 L371.97 135.65 L372.35 135.22 L372.74 134.78 L373.12 134.35 L373.51 133.92 L373.90 133.49 L374.30 133.06 L374.69 132.64 L375.09 132.21 L375.49 131.79 L375.89 131.37 L376.29 130.95 L376.69 130.53 L377.10 130.12 L377.51 129.70 L377.92 129.29 L378.33 128.88 L378.74 128.47 L379.16 128.07 L379.57 127.66 L379.99 127.26 L380.41 126.86 L380.83 126.46 L381.26 126.06 L381.68 125.67 L382.11 125.27 L382.54 124.88 L382.97 124.49 L383.40 124.10 L383.83 123.72 L384.27 123.33 L384.70 122.95 L385.14 122.57 L385.58 122.19 L386.02 121.81 L386.47 121.44 L386.91 121.07 L387.36 120.70 L387.80 120.33 L388.25 119.96 L388.70 119.60 L389.16 119.23 L389.61 118.87 L390.06 118.51 L390.52 118.16 L390.98 117.80 L391.44 117.45 L391.90 117.10 L392.36 116.75 L392.82 116.40 L393.28 116.06 L393.75 115.72 L394.22 115.37 L394.68 115.04 L395.15 114.70 L395.62 114.37 L396.10 114.03 L396.57 113.70 L397.04 113.37 L397.52 113.05 L397.99 112.72 L398.47 112.40 L398.95 112.08 L399.43 111.76 L399.91 111.44 L400.39 111.12 L400.87 110.80 L401.35 110.49 L401.83 110.17 L402.32 109.86 L402.80 109.54 L403.28 109.23 L403.77 108.92 L404.25 108.61 L404.74 108.30 L405.23 107.99 L405.71 107.68 L406.20 107.37 L406.68 107.06 L407.17 106.75 L407.66 106.44 L408.14 106.13 L408.63 105.82 L409.12 105.51 L409.60 105.20 L410.09 104.89 L410.57 104.58 L411.06 104.27 L411.54 103.95 L412.03 103.64 L412.51 103.33 L413.00 103.01 L413.48 102.69 L413.96 102.38 L414.45 102.06 L414.93 101.74 L415.41 101.42 L415.89 101.09 L416.37 100.77 L416.85 100.44 L417.32 100.12 L417.80 99.79 L418.28 99.46 L418.75 99.12 L419.22 98.79 L419.70 98.45 L420.17 98.11 L420.64 97.77 L421.11 97.43 L421.57 97.08 L422.04 96.74 L422.51 96.39 L422.98 96.04 L423.44 95.69 L423.91 95.34 L424.38 95.00 L424.84 94.65 L425.31 94.30 L425.77 93.95 L426.24 93.60 L426.71 93.25 L427.17 92.90 L427.64 92.55 L428.11 92.20 L428.58 91.86 L429.04 91.51 L429.51 91.17 L429.99 90.83 L430.46 90.49 L430.93 90.15 L431.40 89.81 L431.88 89.48 L432.36 89.15 L432.84 88.82 L433.32 88.49 L433.80 88.17 L434.28 87.85 L434.77 87.53 L435.25 87.22 L435.74 86.91 L436.23 86.60 L436.73 86.30 L437.22 86.00 L437.72 85.70 L438.22 85.41 L438.73 85.13 L439.23 84.85 L439.74 84.57 L440.26 84.30 L440.77 84.04 L441.29 83.78 L441.81 83.52 L442.34 83.27 L442.86 83.03 L443.40 82.80 L443.93 82.57 L444.47 82.34 L445.01 82.12 L445.56 81.91 L446.10 81.71 L446.65 81.51 L447.21 81.32 L447.76 81.13 L448.32 80.95 L448.88 80.78 L449.45 80.61 L450.01 80.45 L450.58 80.30 L451.15 80.15 L451.72 80.01 L452.30 79.87 L452.87 79.75 L453.45 79.62 L454.03 79.51 L454.61 79.40 L455.19 79.30 L455.77 79.21 L456.35 79.12 L456.93 79.04 L457.52 78.97 L458.10 78.90 L458.69 78.84 L459.28 78.79 L459.86 78.74 L460.45 78.71 L461.03 78.67 L461.62 78.65 L462.21 78.63 L462.79 78.62 L463.38 78.62 L463.96 78.62 L464.55 78.63 L465.13 78.65 L465.71 78.68 L466.30 78.71 L466.88 78.75 L467.46 78.80 L468.03 78.85 L468.61 78.91 L469.19 78.98 L469.76 79.06 L470.33 79.14 L470.90 79.24 L471.47 79.33 L472.04 79.44 L472.60 79.56 L473.16 79.68 L473.72 79.81 L474.28 79.94 L474.83 80.09 L475.39 80.24 L475.94 80.40 L476.49 80.56 L477.03 80.73 L477.58 80.91 L478.12 81.10 L478.66 81.29 L479.19 81.49 L479.73 81.69 L480.26 81.90 L480.79 82.12 L481.31 82.35 L481.84 82.58 L482.36 82.82 L482.88 83.06 L483.40 83.31 L483.91 83.57 L484.42 83.83 L484.93 84.10 L485.43 84.37 L485.94 84.65 L486.44 84.93 L486.93 85.23 L487.43 85.52 L487.92 85.82 L488.41 86.13 L488.89 86.45 L489.38 86.77 L489.86 87.09 L490.33 87.42 L490.81 87.75 L491.28 88.09 L491.75 88.44 L492.21 88.79 L492.67 89.14 L493.13 89.50 L493.59 89.87 L494.04 90.24 L494.49 90.61 L494.93 90.99 L495.38 91.37 L495.82 91.76 L496.25 92.15 L496.68 92.55 L497.11 92.95 L497.54 93.35 L497.96 93.76 L498.38 94.17 L498.80 94.59 L499.21 95.01 L499.62 95.44 L500.02 95.86 L500.42 96.30 L500.82 96.73 L501.21 97.17 L501.61 97.62 L501.99 98.06 L502.38 98.51 L502.75 98.97 L503.13 99.42 L503.50 99.88 L503.87 100.35 L504.23 100.81 L504.60 101.28 L504.95 101.76 L505.30 102.23 L505.65 102.71 L506.00 103.19 L506.34 103.67 L506.68 104.16 L507.01 104.65 L507.34 105.14 L507.66 105.64 L507.98 106.13 L508.30 106.63 L508.61 107.13 L508.92 107.64 L509.22 108.14 L509.52 108.65 L509.82 109.16 L510.11 109.67 L510.40 110.18 L510.68 110.70 L510.96 111.22 L511.23 111.73 L511.50 112.26 L511.76 112.78 L512.02 113.30 L512.28 113.83 L512.53 114.35 L512.78 114.88 L513.02 115.41 L513.26 115.94 L513.49 116.47 L513.72 117.00 L513.95 117.54 L514.17 118.07 L514.39 118.61 L514.60 119.15 L514.81 119.68 L515.01 120.22 L515.21 120.77 L515.41 121.31 L515.60 121.85 L515.79 122.40 L515.98 122.94 L516.16 123.49 L516.34 124.04 L516.52 124.58 L516.69 125.13 L516.86 125.68 L517.03 126.24 L517.19 126.79 L517.35 127.34 L517.50 127.89 L517.66 128.45 L517.81 129.01 L517.96 129.56 L518.10 130.12 L518.24 130.68 L518.38 131.24 L518.52 131.80 L518.65 132.36 L518.78 132.92 L518.91 133.48 L519.03 134.04 L519.16 134.61 L519.28 135.17 L519.40 135.74 L519.51 136.30 L519.63 136.87 L519.74 137.44 L519.85 138.00 L519.96 138.57 L520.07 139.14 L520.17 139.71 L520.27 140.28 L520.37 140.85 L520.47 141.42 L520.57 141.99 L520.67 142.56 L520.76 143.13 L520.85 143.70 L520.94 144.28 L521.04 144.85 L521.12 145.42 L521.21 146.00 L521.30 146.57 L521.38 147.14 L521.47 147.72 L521.55 148.29 L521.63 148.87 L521.71 149.44 L521.79 150.02 L521.87 150.59 L521.95 151.17 L522.03 151.75 L522.11 152.32 L522.18 152.90 L522.26 153.47 L522.34 154.05 L522.41 154.63 L522.49 155.20 L522.56 155.78 L522.64 156.36 L522.71 156.93 L522.79 157.51 L522.86 158.09 L522.94 158.66 L523.01 159.24 L523.09 159.81 L523.16 160.39 L523.24 160.97 L523.31 161.54 L523.39 162.12 L523.46 162.69 L523.54 163.27 L523.62 163.84 L523.70 164.42 L523.78 164.99 L523.86 165.57 L523.94 166.14 L524.02 166.71 L524.10 167.29 L524.18 167.86 L524.27 168.43 L524.35 169.00 L524.43 169.58 L524.52 170.15 L524.61 170.72 L524.69 171.29 L524.78 171.86 L524.86 172.43 L524.95 173.00 L525.04 173.57 L525.13 174.14 L525.21 174.71 L525.30 175.28 L525.39 175.85 L525.47 176.42 L525.56 176.99 L525.64 177.56 L525.73 178.13 L525.81 178.70 L525.89 179.27 L525.98 179.84 L526.06 180.41 L526.14 180.98 L526.22 181.55 L526.30 182.12 L526.38 182.69 L526.45 183.26 L526.53 183.83 L526.60 184.40 L526.67 184.97 L526.75 185.55 L526.81 186.12 L526.88 186.69 L526.95 187.26 L527.01 187.83 L527.07 188.40 L527.13 188.97 L527.19 189.55 L527.25 190.12 L527.30 190.69 L527.35 191.27 L527.40 191.84 L527.45 192.41 L527.49 192.99 L527.53 193.56 L527.57 194.14 L527.61 194.71 L527.64 195.29 L527.67 195.86 L527.70 196.44 L527.72 197.02 L527.75 197.60 L527.76 198.17 L527.78 198.75 L527.79 199.33 L527.80 199.91 L527.80 200.49 L527.80 201.07 L527.80 201.66 L527.79 202.24 L527.78 202.82 L527.77 203.40 L527.75 203.99 L527.73 204.57 L527.70 205.16 L527.67 205.75 L527.64 206.33 L527.60 206.92 L527.55 207.51" fill="none" stroke="#0000a8" stroke-width="2.2" stroke-dasharray="5.5 5" stroke-dashoffset="5.7" clip-path="url(#cr)"/>
<circle cx="347.5" cy="181.3" r="2.8" fill="#0000a8"/>
<circle cx="357.5" cy="155.7" r="2.8" fill="#0000a8"/>
<circle cx="373.8" cy="133.5" r="2.8" fill="#0000a8"/>
<circle cx="395.2" cy="114.6" r="2.8" fill="#0000a8"/>
<circle cx="419.5" cy="99.1" r="2.8" fill="#0000a8"/>
<circle cx="442.9" cy="82.6" r="2.8" fill="#0000a8"/>
<circle cx="471.2" cy="79.4" r="2.8" fill="#0000a8"/>
<circle cx="496.5" cy="92.1" r="2.8" fill="#0000a8"/>
<circle cx="512.4" cy="114.0" r="2.8" fill="#0000a8"/>
<circle cx="520.0" cy="140.8" r="2.8" fill="#0000a8"/>
<circle cx="524.1" cy="166.7" r="2.8" fill="#0000a8"/>
<circle cx="527.2" cy="193.2" r="2.8" fill="#0000a8"/>
<path d="M331.05 207.52 L331.04 206.95 L331.04 206.38 L331.04 205.81 L331.05 205.24 L331.06 204.67 L331.08 204.10 L331.09 203.53 L331.11 202.96 L331.14 202.40 L331.17 201.83 L331.20 201.26 L331.24 200.70 L331.28 200.13 L331.32 199.56 L331.37 199.00 L331.42 198.43 L331.47 197.87 L331.53 197.30 L331.59 196.74 L331.65 196.18 L331.72 195.61 L331.79 195.05 L331.87 194.49 L331.95 193.93 L332.03 193.37 L332.11 192.81 L332.20 192.25 L332.29 191.69 L332.39 191.14 L332.49 190.58 L332.59 190.02 L332.70 189.47 L332.81 188.91 L332.92 188.36 L333.03 187.80 L333.15 187.25 L333.28 186.70 L333.40 186.15 L333.53 185.60 L333.66 185.05 L333.80 184.50 L333.94 183.95 L334.08 183.40 L334.22 182.85 L334.37 182.31 L334.52 181.76 L334.68 181.22 L334.84 180.68 L335.00 180.13 L335.16 179.59 L335.33 179.05 L335.50 178.51 L335.67 177.97 L335.85 177.43 L336.03 176.90 L336.21 176.36 L336.40 175.83 L336.58 175.29 L336.78 174.76 L336.97 174.23 L337.17 173.70 L337.37 173.17 L337.57 172.64 L337.78 172.11 L337.99 171.58 L338.20 171.06 L338.42 170.53 L338.63 170.01 L338.85 169.49 L339.08 168.97 L339.31 168.45 L339.54 167.93 L339.77 167.41 L340.00 166.90 L340.24 166.38 L340.48 165.87 L340.73 165.35 L340.97 164.84 L341.22 164.33 L341.47 163.82 L341.73 163.32 L341.99 162.81 L342.25 162.31 L342.51 161.80 L342.77 161.30 L343.04 160.80 L343.31 160.30 L343.59 159.80 L343.86 159.30 L344.14 158.81 L344.42 158.31 L344.71 157.82 L344.99 157.33 L345.28 156.84 L345.58 156.35 L345.87 155.87 L346.17 155.38 L346.47 154.90 L346.77 154.42 L347.07 153.93 L347.38 153.46 L347.69 152.98 L348.00 152.50 L348.31 152.03 L348.63 151.55 L348.95 151.08 L349.27 150.61 L349.59 150.15 L349.92 149.68 L350.25 149.21 L350.58 148.75 L350.91 148.29 L351.25 147.83 L351.59 147.37 L351.93 146.92 L352.27 146.46 L352.61 146.01 L352.96 145.56 L353.31 145.11 L353.66 144.66 L354.02 144.21 L354.37 143.77 L354.73 143.33 L355.09 142.89 L355.45 142.45 L355.82 142.01 L356.18 141.58 L356.55 141.15 L356.92 140.71 L357.30 140.29 L357.67 139.86 L358.05 139.43 L358.43 139.01 L358.81 138.59 L359.19 138.17 L359.58 137.75 L359.97 137.34 L360.36 136.92 L360.75 136.51 L361.14 136.10 L361.54 135.69 L361.94 135.29 L362.33 134.89 L362.74 134.49 L363.14 134.09 L363.54 133.69 L363.95 133.29 L364.36 132.90 L364.77 132.51 L365.18 132.12 L365.60 131.74 L366.01 131.35 L366.43 130.97 L366.85 130.59 L367.27 130.21 L367.70 129.84 L368.12 129.47 L368.55 129.09 L368.98 128.73 L369.41 128.36 L369.84 128.00 L370.28 127.63 L370.71 127.28 L371.15 126.92 L371.59 126.56 L372.03 126.21 L372.47 125.86 L372.91 125.51 L373.36 125.17 L373.81 124.83 L374.25 124.49 L374.70 124.15 L375.16 123.81 L375.61 123.48 L376.06 123.15 L376.52 122.82 L376.98 122.50 L377.44 122.17 L377.90 121.85 L378.36 121.53 L378.83 121.22 L379.29 120.91 L379.76 120.59 L380.23 120.29 L380.69 119.98 L381.17 119.67 L381.64 119.37 L382.11 119.07 L382.59 118.78 L383.06 118.48 L383.54 118.19 L384.02 117.90 L384.50 117.61 L384.98 117.32 L385.47 117.04 L385.95 116.76 L386.44 116.48 L386.92 116.20 L387.41 115.93 L387.90 115.65 L388.39 115.38 L388.88 115.12 L389.38 114.85 L389.87 114.59 L390.37 114.32 L390.87 114.06 L391.36 113.81 L391.86 113.55 L392.36 113.30 L392.87 113.04 L393.37 112.79 L393.87 112.55 L394.38 112.30 L394.88 112.06 L395.39 111.81 L395.90 111.58 L396.41 111.34 L396.92 111.10 L397.43 110.87 L397.94 110.64 L398.46 110.41 L398.97 110.18 L399.49 109.95 L400.00 109.73 L400.52 109.50 L401.04 109.28 L401.56 109.06 L402.08 108.85 L402.60 108.63 L403.12 108.42 L403.65 108.21 L404.17 108.00 L404.70 107.79 L405.22 107.58 L405.75 107.38 L406.28 107.17 L406.81 106.97 L407.34 106.77 L407.87 106.58 L408.40 106.38 L408.93 106.19 L409.46 105.99 L410.00 105.80 L410.53 105.61 L411.07 105.42 L411.60 105.24 L412.14 105.05 L412.68 104.87 L413.21 104.69 L413.75 104.51 L414.29 104.33 L414.83 104.15 L415.37 103.98 L415.92 103.80 L416.46 103.63 L417.00 103.46 L417.55 103.29 L418.09 103.12 L418.63 102.96 L419.18 102.79 L419.73 102.63 L420.27 102.47 L420.82 102.30 L421.37 102.15 L421.92 101.99 L422.47 101.83 L423.01 101.68 L423.56 101.52 L424.12 101.37 L424.67 101.22 L425.22 101.07 L425.77 100.92 L426.32 100.77 L426.88 100.63 L427.43 100.48 L427.98 100.34 L428.54 100.19 L429.09 100.05 L429.65 99.91 L430.20 99.77 L430.76 99.64 L431.31 99.50 L431.87 99.37 L432.43 99.23 L432.99 99.10 L433.54 98.97 L434.10 98.84 L434.66 98.72 L435.22 98.59 L435.78 98.47 L436.34 98.35 L436.90 98.23 L437.46 98.11 L438.02 97.99 L438.58 97.88 L439.14 97.77 L439.71 97.65 L440.27 97.55 L440.83 97.44 L441.40 97.34 L441.96 97.23 L442.52 97.13 L443.09 97.03 L443.65 96.94 L444.22 96.85 L444.78 96.75 L445.35 96.67 L445.92 96.58 L446.48 96.49 L447.05 96.41 L447.62 96.33 L448.19 96.26 L448.76 96.18 L449.32 96.11 L449.89 96.04 L450.46 95.98 L451.03 95.91 L451.60 95.85 L452.17 95.79 L452.74 95.74 L453.31 95.69 L453.89 95.64 L454.46 95.59 L455.03 95.55 L455.60 95.51 L456.18 95.47 L456.75 95.44 L457.32 95.41 L457.90 95.38 L458.47 95.35 L459.05 95.33 L459.62 95.31 L460.20 95.30 L460.77 95.29 L461.35 95.28 L461.92 95.28 L462.50 95.27 L463.07 95.28 L463.65 95.28 L464.22 95.29 L464.80 95.31 L465.37 95.32 L465.94 95.35 L466.52 95.37 L467.09 95.40 L467.66 95.43 L468.24 95.47 L468.81 95.51 L469.38 95.55 L469.95 95.60 L470.52 95.66 L471.09 95.71 L471.65 95.78 L472.22 95.84 L472.79 95.91 L473.35 95.98 L473.92 96.06 L474.48 96.15 L475.04 96.23 L475.60 96.33 L476.16 96.42 L476.72 96.52 L477.28 96.63 L477.83 96.74 L478.39 96.85 L478.94 96.97 L479.49 97.10 L480.04 97.23 L480.59 97.36 L481.13 97.50 L481.68 97.65 L482.22 97.80 L482.76 97.95 L483.30 98.11 L483.83 98.28 L484.37 98.45 L484.90 98.62 L485.43 98.80 L485.96 98.99 L486.49 99.18 L487.01 99.38 L487.53 99.58 L488.05 99.79 L488.57 100.00 L489.08 100.22 L489.59 100.44 L490.10 100.67 L490.61 100.91 L491.11 101.15 L491.61 101.39 L492.11 101.64 L492.61 101.90 L493.10 102.16 L493.59 102.42 L494.08 102.69 L494.56 102.97 L495.04 103.25 L495.52 103.54 L496.00 103.83 L496.47 104.13 L496.94 104.43 L497.40 104.73 L497.87 105.04 L498.33 105.36 L498.78 105.68 L499.23 106.01 L499.68 106.34 L500.13 106.67 L500.57 107.01 L501.01 107.35 L501.44 107.70 L501.87 108.06 L502.30 108.41 L502.72 108.78 L503.14 109.14 L503.56 109.51 L503.97 109.89 L504.38 110.27 L504.78 110.65 L505.18 111.04 L505.58 111.44 L505.97 111.83 L506.36 112.23 L506.74 112.64 L507.12 113.05 L507.49 113.46 L507.86 113.88 L508.23 114.31 L508.59 114.73 L508.95 115.16 L509.30 115.60 L509.65 116.03 L509.99 116.48 L510.33 116.92 L510.66 117.37 L510.99 117.83 L511.32 118.28 L511.64 118.74 L511.96 119.21 L512.27 119.67 L512.58 120.15 L512.88 120.62 L513.18 121.10 L513.48 121.58 L513.77 122.06 L514.05 122.55 L514.34 123.04 L514.61 123.53 L514.89 124.03 L515.16 124.52 L515.43 125.02 L515.69 125.53 L515.95 126.03 L516.20 126.54 L516.45 127.05 L516.70 127.57 L516.94 128.08 L517.18 128.60 L517.41 129.12 L517.65 129.64 L517.87 130.17 L518.10 130.69 L518.32 131.22 L518.53 131.75 L518.75 132.28 L518.96 132.82 L519.16 133.35 L519.36 133.89 L519.56 134.43 L519.76 134.97 L519.95 135.51 L520.14 136.05 L520.32 136.59 L520.51 137.14 L520.68 137.69 L520.86 138.23 L521.03 138.78 L521.20 139.33 L521.36 139.88 L521.53 140.43 L521.69 140.98 L521.84 141.53 L521.99 142.09 L522.14 142.64 L522.29 143.19 L522.43 143.75 L522.58 144.31 L522.71 144.86 L522.85 145.42 L522.98 145.98 L523.11 146.53 L523.24 147.09 L523.36 147.65 L523.48 148.21 L523.60 148.77 L523.72 149.33 L523.83 149.89 L523.94 150.46 L524.05 151.02 L524.16 151.58 L524.26 152.15 L524.36 152.71 L524.46 153.27 L524.56 153.84 L524.65 154.40 L524.74 154.97 L524.83 155.54 L524.92 156.10 L525.00 156.67 L525.09 157.24 L525.17 157.80 L525.25 158.37 L525.32 158.94 L525.40 159.51 L525.47 160.07 L525.54 160.64 L525.61 161.21 L525.68 161.78 L525.74 162.35 L525.81 162.92 L525.87 163.49 L525.93 164.06 L525.99 164.63 L526.05 165.20 L526.10 165.77 L526.16 166.34 L526.21 166.91 L526.26 167.48 L526.31 168.05 L526.36 168.63 L526.40 169.20 L526.45 169.77 L526.49 170.34 L526.54 170.91 L526.58 171.48 L526.62 172.05 L526.66 172.62 L526.69 173.19 L526.73 173.76 L526.77 174.34 L526.80 174.91 L526.84 175.48 L526.87 176.05 L526.90 176.62 L526.93 177.19 L526.96 177.76 L526.99 178.33 L527.02 178.90 L527.05 179.47 L527.08 180.04 L527.10 180.60 L527.13 181.17 L527.15 181.74 L527.18 182.31 L527.20 182.88 L527.23 183.45 L527.25 184.01 L527.27 184.58 L527.29 185.15 L527.32 185.71 L527.34 186.28 L527.36 186.84 L527.38 187.41 L527.40 187.97 L527.42 188.54 L527.44 189.10 L527.46 189.67 L527.48 190.23 L527.51 190.79 L527.53 191.35 L527.55 191.91 L527.57 192.47 L527.59 193.03 L527.61 193.59 L527.63 194.15 L527.65 194.71 L527.67 195.27 L527.69 195.83 L527.72 196.38 L527.74 196.94 L527.76 197.50 L527.79 198.05 L527.81 198.61 L527.83 199.16 L527.86 199.71 L527.88 200.26 L527.91 200.82 L527.94 201.37 L527.96 201.92 L527.99 202.46 L528.02 203.01 L528.05 203.56 L528.08 204.11 L528.11 204.65 L528.14 205.20 L528.18 205.74 L528.21 206.28 L528.25 206.83 L528.28 207.37" fill="none" stroke="#d00000" stroke-width="2.2" stroke-dasharray="5.5 5" stroke-dashoffset="3.5" clip-path="url(#cr)"/>
<circle cx="332.3" cy="192.2" r="2.8" fill="#d00000"/>
<circle cx="340.2" cy="166.4" r="2.8" fill="#d00000"/>
<circle cx="355.2" cy="142.8" r="2.8" fill="#d00000"/>
<circle cx="375.4" cy="123.5" r="2.8" fill="#d00000"/>
<circle cx="400.6" cy="109.4" r="2.8" fill="#d00000"/>
<circle cx="428.6" cy="100.4" r="2.8" fill="#d00000"/>
<circle cx="457.6" cy="95.5" r="2.8" fill="#d00000"/>
<circle cx="487.3" cy="99.3" r="2.8" fill="#d00000"/>
<circle cx="509.9" cy="115.5" r="2.8" fill="#d00000"/>
<circle cx="521.1" cy="140.6" r="2.8" fill="#d00000"/>
<circle cx="526.1" cy="166.0" r="2.8" fill="#d00000"/>
<circle cx="527.8" cy="194" r="2.8" fill="#d00000"/>
<rect x="307.6" y="4.2" width="222.79999999999995" height="203.3" fill="none" stroke="#000" stroke-width="1.2"/>
<path d="M307.60 207.5 v-5.0 M307.60 4.2 v5.0 M363.30 207.5 v-5.0 M363.30 4.2 v5.0 M419.00 207.5 v-5.0 M419.00 4.2 v5.0 M474.70 207.5 v-5.0 M474.70 4.2 v5.0 M530.40 207.5 v-5.0 M530.40 4.2 v5.0 M307.6 207.50 h5.0 M530.4 207.50 h-5.0 M307.6 156.68 h5.0 M530.4 156.68 h-5.0 M307.6 105.85 h5.0 M530.4 105.85 h-5.0 M307.6 55.02 h5.0 M530.4 55.02 h-5.0 M307.6 4.20 h5.0 M530.4 4.20 h-5.0" stroke="#000" stroke-width="1.2" fill="none"/>
<path d="M318.74 207.5 v-3.0 M318.74 4.2 v3.0 M329.88 207.5 v-3.0 M329.88 4.2 v3.0 M341.02 207.5 v-3.0 M341.02 4.2 v3.0 M352.16 207.5 v-3.0 M352.16 4.2 v3.0 M374.44 207.5 v-3.0 M374.44 4.2 v3.0 M385.58 207.5 v-3.0 M385.58 4.2 v3.0 M396.72 207.5 v-3.0 M396.72 4.2 v3.0 M407.86 207.5 v-3.0 M407.86 4.2 v3.0 M430.14 207.5 v-3.0 M430.14 4.2 v3.0 M441.28 207.5 v-3.0 M441.28 4.2 v3.0 M452.42 207.5 v-3.0 M452.42 4.2 v3.0 M463.56 207.5 v-3.0 M463.56 4.2 v3.0 M485.84 207.5 v-3.0 M485.84 4.2 v3.0 M496.98 207.5 v-3.0 M496.98 4.2 v3.0 M508.12 207.5 v-3.0 M508.12 4.2 v3.0 M519.26 207.5 v-3.0 M519.26 4.2 v3.0 M307.6 197.34 h3.0 M530.4 197.34 h-3.0 M307.6 187.17 h3.0 M530.4 187.17 h-3.0 M307.6 177.00 h3.0 M530.4 177.00 h-3.0 M307.6 166.84 h3.0 M530.4 166.84 h-3.0 M307.6 146.51 h3.0 M530.4 146.51 h-3.0 M307.6 136.34 h3.0 M530.4 136.34 h-3.0 M307.6 126.18 h3.0 M530.4 126.18 h-3.0 M307.6 116.01 h3.0 M530.4 116.01 h-3.0 M307.6 95.68 h3.0 M530.4 95.68 h-3.0 M307.6 85.52 h3.0 M530.4 85.52 h-3.0 M307.6 75.35 h3.0 M530.4 75.35 h-3.0 M307.6 65.19 h3.0 M530.4 65.19 h-3.0 M307.6 44.86 h3.0 M530.4 44.86 h-3.0 M307.6 34.69 h3.0 M530.4 34.69 h-3.0 M307.6 24.53 h3.0 M530.4 24.53 h-3.0 M307.6 14.36 h3.0 M530.4 14.36 h-3.0" stroke="#000" stroke-width="0.7" fill="none"/>
<line x1="441.8" y1="195.1" x2="471" y2="195.1" stroke="#000" stroke-width="1.3"/>
<path d="M470 191.9 L485.2 195.1 L470 198.3 Z" fill="#000"/>
<text x="24.4" y="211.5" font-size="11.6" text-anchor="end" fill="#000" font-family="Liberation Serif, serif" >0</text>
<text x="24.4" y="143.63" font-size="11.6" text-anchor="end" fill="#000" font-family="Liberation Serif, serif" >0.1</text>
<text x="24.4" y="75.76" font-size="11.6" text-anchor="end" fill="#000" font-family="Liberation Serif, serif" >0.2</text>
<text x="24.4" y="7.889999999999998" font-size="11.6" text-anchor="end" fill="#000" font-family="Liberation Serif, serif" >0.3</text>
<text x="32.4" y="219.9" font-size="11.6" text-anchor="start" fill="#000" font-family="Liberation Serif, serif" >10</text>
<text x="43.6" y="213.9" font-size="6.8" text-anchor="start" fill="#000" font-family="Liberation Serif, serif" >-2</text>
<text x="102.44999999999999" y="219.9" font-size="11.6" text-anchor="start" fill="#000" font-family="Liberation Serif, serif" >10</text>
<text x="113.64999999999999" y="213.9" font-size="6.8" text-anchor="start" fill="#000" font-family="Liberation Serif, serif" >-1</text>
<text x="172.5" y="219.9" font-size="11.6" text-anchor="start" fill="#000" font-family="Liberation Serif, serif" >10</text>
<text x="183.7" y="213.9" font-size="6.8" text-anchor="start" fill="#000" font-family="Liberation Serif, serif" >0</text>
<text x="242.54999999999998" y="219.9" font-size="11.6" text-anchor="start" fill="#000" font-family="Liberation Serif, serif" >10</text>
<text x="253.74999999999997" y="213.9" font-size="6.8" text-anchor="start" fill="#000" font-family="Liberation Serif, serif" >1</text>
<text x="304.6" y="211.7" font-size="11.6" text-anchor="end" fill="#000" font-family="Liberation Serif, serif" >0</text>
<text x="304.6" y="160.875" font-size="11.6" text-anchor="end" fill="#000" font-family="Liberation Serif, serif" >0.5</text>
<text x="304.6" y="110.05" font-size="11.6" text-anchor="end" fill="#000" font-family="Liberation Serif, serif" >1</text>
<text x="304.6" y="59.22499999999998" font-size="11.6" text-anchor="end" fill="#000" font-family="Liberation Serif, serif" >1.5</text>
<text x="304.6" y="8.399999999999988" font-size="11.6" text-anchor="end" fill="#000" font-family="Liberation Serif, serif" >2</text>
<text x="306.1" y="218.6" font-size="11.6" text-anchor="middle" fill="#000" font-family="Liberation Serif, serif" >-1</text>
<text x="361.8" y="218.6" font-size="11.6" text-anchor="middle" fill="#000" font-family="Liberation Serif, serif" >-0.5</text>
<text x="419.0" y="218.6" font-size="11.6" text-anchor="middle" fill="#000" font-family="Liberation Serif, serif" >0</text>
<text x="474.7" y="218.6" font-size="11.6" text-anchor="middle" fill="#000" font-family="Liberation Serif, serif" >0.5</text>
<text x="530.4" y="218.6" font-size="11.6" text-anchor="middle" fill="#000" font-family="Liberation Serif, serif" >1</text>
<text x="42.3" y="27.4" font-size="11" text-anchor="start" fill="#000" font-family="Liberation Serif, serif" >(</text>
<text x="45.6" y="27.4" font-size="11" text-anchor="start" fill="#000" font-family="Liberation Serif, serif" font-style="italic">u</text>
<circle cx="49.6" cy="20.2" r="0.65" fill="#000"/>
<text x="52.0" y="31.4" font-size="6.4" text-anchor="start" fill="#000" font-family="Liberation Serif, serif" font-style="italic">x</text>
<text x="54.5" y="27.5" font-size="11.8" text-anchor="start" fill="#000" font-family="Liberation Serif, serif" >Θ</text>
<text x="63.3" y="31.4" font-size="6.4" text-anchor="start" fill="#000" font-family="Liberation Serif, serif" font-style="italic">z</text>
<text x="66.2" y="27.4" font-size="11" text-anchor="start" fill="#000" font-family="Liberation Serif, serif" >)/</text>
<text x="72.0" y="27.4" font-size="11" text-anchor="start" fill="#000" font-family="Liberation Serif, serif" font-style="italic">a</text>
<text x="77.6" y="30.9" font-size="7.6" text-anchor="start" fill="#000" font-family="Liberation Serif, serif" >0</text>
<text x="85.8" y="27.4" font-size="11" text-anchor="start" fill="#000" font-family="Liberation Serif, serif" >[#]</text>
<line x1="37.9" y1="39.3" x2="89.8" y2="39.3" stroke="#d00000" stroke-width="2.3"/>
<text x="98.6" y="43.0" font-size="11.6" text-anchor="start" fill="#000" font-family="Liberation Serif, serif" >1</text>
<line x1="37.9" y1="53.1" x2="89.8" y2="53.1" stroke="#0000a8" stroke-width="2.3"/>
<text x="98.6" y="56.800000000000004" font-size="11.6" text-anchor="start" fill="#000" font-family="Liberation Serif, serif" >2</text>
<line x1="37.9" y1="66.8" x2="89.8" y2="66.8" stroke="#00a000" stroke-width="2.3"/>
<text x="98.6" y="70.5" font-size="11.6" text-anchor="start" fill="#000" font-family="Liberation Serif, serif" >3</text>
<text x="130.4" y="197.0" font-size="12.2" text-anchor="start" fill="#00a000" font-family="Liberation Serif, serif" >A</text>
<text x="160.6" y="197.0" font-size="12.2" text-anchor="start" fill="#0000a8" font-family="Liberation Serif, serif" >B</text>
<text x="179.0" y="197.0" font-size="12.2" text-anchor="start" fill="#d00000" font-family="Liberation Serif, serif" >C</text>
<text x="333.8" y="24.9" font-size="12" text-anchor="start" fill="#000" font-family="Liberation Serif, serif" font-style="italic">t</text>
<text x="337.1" y="24.9" font-size="12" text-anchor="start" fill="#000" font-family="Liberation Serif, serif" >/</text>
<text x="340.4" y="24.9" font-size="12" text-anchor="start" fill="#000" font-family="Liberation Serif, serif" >Θ</text>
<text x="349.4" y="28.8" font-size="7.6" text-anchor="start" fill="#000" font-family="Liberation Serif, serif" font-style="italic">z</text>
<line x1="316.3" y1="34.1" x2="367.9" y2="34.1" stroke="#000" stroke-width="2.3"/>
<text x="376.0" y="37.9" font-size="11.6" text-anchor="start" fill="#000" font-family="Liberation Serif, serif" >0</text>
<line x1="316.3" y1="47.6" x2="367.9" y2="47.6" stroke="#00a000" stroke-width="2.2" stroke-dasharray="5.2 5.3"/>
<circle cx="342.2" cy="47.6" r="2.8" fill="#00a000"/>
<text x="376.3" y="51.6" font-size="11.6" text-anchor="start" fill="#000" font-family="Liberation Serif, serif" >A</text>
<line x1="316.3" y1="61.4" x2="367.9" y2="61.4" stroke="#0000a8" stroke-width="2.2" stroke-dasharray="5.2 5.3"/>
<circle cx="342.2" cy="61.4" r="2.8" fill="#0000a8"/>
<text x="376.3" y="65.4" font-size="11.6" text-anchor="start" fill="#000" font-family="Liberation Serif, serif" >B</text>
<line x1="316.3" y1="74.9" x2="367.9" y2="74.9" stroke="#d00000" stroke-width="2.2" stroke-dasharray="5.2 5.3"/>
<circle cx="342.2" cy="74.9" r="2.8" fill="#d00000"/>
<text x="376.3" y="78.9" font-size="11.6" text-anchor="start" fill="#000" font-family="Liberation Serif, serif" >C</text>
<g transform="translate(11.0,0) rotate(-90)"><text x="-126.6" y="0" font-size="13.6" text-anchor="start" fill="#000" font-family="Liberation Serif, serif" >μ</text><text x="-118.4" y="0" font-size="13.6" text-anchor="start" fill="#000" font-family="Liberation Serif, serif" font-style="italic">R</text><text x="-109.8" y="0" font-size="13.6" text-anchor="start" fill="#000" font-family="Liberation Serif, serif" >/</text><text x="-105.0" y="0" font-size="13.6" text-anchor="start" fill="#000" font-family="Liberation Serif, serif" font-style="italic">a</text><text x="-98.0" y="3.6" font-size="9.5" text-anchor="start" fill="#000" font-family="Liberation Serif, serif" >0</text></g>
<g transform="translate(290.6,0) rotate(-90)"><text x="-119.0" y="0" font-size="14" text-anchor="start" fill="#000" font-family="Liberation Serif, serif" font-style="italic">L</text><text x="-111.2" y="0" font-size="14" text-anchor="start" fill="#000" font-family="Liberation Serif, serif" >/</text><text x="-107.4" y="0" font-size="14" text-anchor="start" fill="#000" font-family="Liberation Serif, serif" font-style="italic">L</text><text x="-99.4" y="3.6" font-size="9.5" text-anchor="start" fill="#000" font-family="Liberation Serif, serif" >0</text></g>
<text x="127.9" y="227.8" font-size="14" text-anchor="start" fill="#000" font-family="Liberation Serif, serif" font-style="italic">t</text><text x="131.4" y="227.8" font-size="14" text-anchor="start" fill="#000" font-family="Liberation Serif, serif" >/Θ</text><text x="145.6" y="231.8" font-size="9" text-anchor="start" fill="#000" font-family="Liberation Serif, serif" font-style="italic">z</text>
<text x="406.8" y="229.0" font-size="14" text-anchor="start" fill="#000" font-family="Liberation Serif, serif" font-style="italic">x</text><text x="412.8" y="229.0" font-size="14" text-anchor="start" fill="#000" font-family="Liberation Serif, serif" >/</text><text x="416.2" y="229.0" font-size="14" text-anchor="start" fill="#000" font-family="Liberation Serif, serif" font-style="italic">a</text><text x="423.2" y="232.6" font-size="9" text-anchor="start" fill="#000" font-family="Liberation Serif, serif" >0</text>
<text x="130.1" y="248.9" font-size="14.3" text-anchor="start" fill="#000" font-family="Liberation Serif, serif" >(a)</text>
<text x="408.3" y="248.9" font-size="14.3" text-anchor="start" fill="#000" font-family="Liberation Serif, serif" >(b)</text>
<text x="446.0" y="189.8" font-size="10" text-anchor="start" fill="#000" font-family="Liberation Serif, serif" font-style="italic">U</text><text x="452.9" y="193.2" font-size="6.8" text-anchor="start" fill="#000" font-family="Liberation Serif, serif" font-style="italic">x</text><text x="456.6" y="189.8" font-size="10" text-anchor="start" fill="#000" font-family="Liberation Serif, serif" >(</text><text x="460.2" y="189.8" font-size="10" text-anchor="start" fill="#000" font-family="Liberation Serif, serif" font-style="italic">t</text><text x="463.4" y="189.8" font-size="10" text-anchor="start" fill="#000" font-family="Liberation Serif, serif" >)</text>
<circle cx="450.2" cy="180.2" r="0.65" fill="#000"/>
</svg>
</body></html>
